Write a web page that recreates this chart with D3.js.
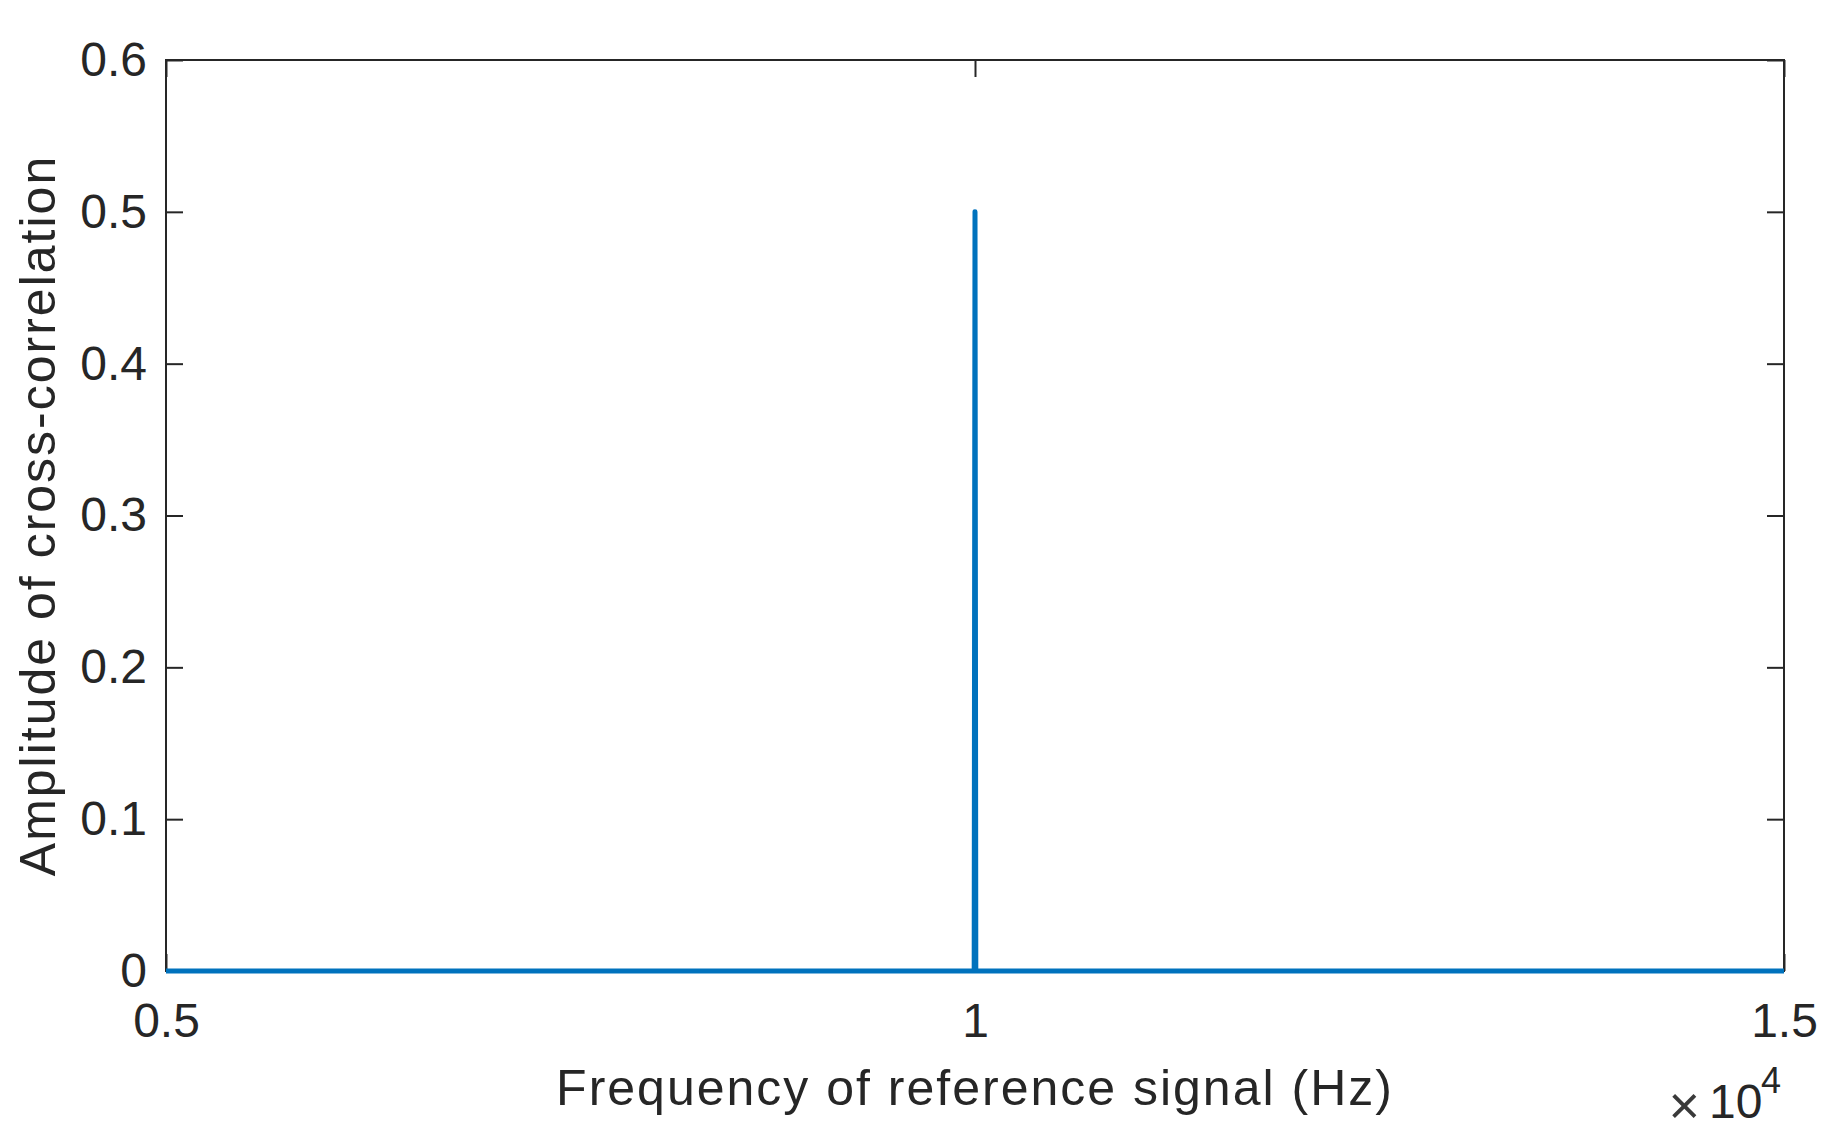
<!DOCTYPE html>
<html>
<head>
<meta charset="utf-8">
<script src="https://cdn.jsdelivr.net/npm/d3@7"></script>
<style>
  html, body { margin: 0; padding: 0; background: #fff; }
  svg { display: block; }
  text { font-family: "Liberation Sans", Arial, Helvetica, sans-serif; fill: #262626; }
</style>
</head>
<body>
<svg id="chart" width="1834" height="1136"></svg>
<script>
// ---- data ----
const frequencies = [5000, 9995, 10000, 10005, 15000];
const amplitudes  = [0, 0, 0.5, 0, 0];
const xTicks = [5000, 10000, 15000];
const xTickLabels = ["0.5", "1", "1.5"];
const yTicks = [0, 0.1, 0.2, 0.3, 0.4, 0.5, 0.6];
const yTickLabels = ["0", "0.1", "0.2", "0.3", "0.4", "0.5", "0.6"];
const xLabel = "Frequency of reference signal (Hz)";
const yLabel = "Amplitude of cross-correlation";

// ---- layout ----
const m = { left: 166, right: 1784, top: 60, bottom: 971 };
const axisColor = "#262626";
const lineColor = "#0072BD";
const tickLen = 17;

const svg = d3.select("#chart");
const x = d3.scaleLinear().domain([5000, 15000]).range([m.left, m.right]);
const y = d3.scaleLinear().domain([0, 0.6]).range([m.bottom, m.top]);

const pts = frequencies.map((f, i) => [f, amplitudes[i]]);
const lineGen = d3.line().x(d => x(d[0])).y(d => y(d[1]));

function styleAxis(g) {
  g.select(".domain").remove();
  g.selectAll(".tick line").attr("stroke", axisColor).attr("stroke-width", 2);
  g.selectAll("text").attr("fill", axisColor).style("font-size", "48px")
    .style("font-family", '"Liberation Sans", Arial, Helvetica, sans-serif');
}

const xAxis = svg.append("g").attr("transform", `translate(0,${m.bottom})`)
  .call(d3.axisBottom(x).tickValues(xTicks).tickSizeInner(-tickLen).tickSizeOuter(0)
    .tickPadding(32).tickFormat((d, i) => xTickLabels[i]));
styleAxis(xAxis);
xAxis.selectAll("text").attr("dy", "0.71em");

const xAxisTop = svg.append("g").attr("transform", `translate(0,${m.top})`)
  .call(d3.axisTop(x).tickValues(xTicks).tickSizeInner(-tickLen).tickSizeOuter(0).tickFormat(""));
styleAxis(xAxisTop);

const yAxis = svg.append("g").attr("transform", `translate(${m.left},0)`)
  .call(d3.axisLeft(y).tickValues(yTicks).tickSizeInner(-tickLen).tickSizeOuter(0)
    .tickPadding(19).tickFormat((d, i) => yTickLabels[i]));
styleAxis(yAxis);

const yAxisRight = svg.append("g").attr("transform", `translate(${m.right},0)`)
  .call(d3.axisRight(y).tickValues(yTicks).tickSizeInner(-tickLen).tickSizeOuter(0).tickFormat(""));
styleAxis(yAxisRight);

// box
svg.append("rect")
  .attr("x", m.left).attr("y", m.top)
  .attr("width", m.right - m.left).attr("height", m.bottom - m.top)
  .attr("fill", "none").attr("stroke", axisColor).attr("stroke-width", 2);

// data line (on top of the box, as in the reference)
svg.append("path")
  .datum(pts)
  .attr("fill", "none")
  .attr("stroke", lineColor)
  .attr("stroke-width", 5)
  .attr("stroke-linejoin", "round")
  .attr("d", lineGen);

// exponent label
svg.append("text")
  .attr("x", 1700).attr("y", 1124)
  .attr("text-anchor", "end")
  .style("font-size", "54px")
  .style("fill", "#3a3a3a")
  .text("\u00d7");
svg.append("text")
  .attr("x", 1709).attr("y", 1118)
  .style("font-size", "48px")
  .text("10");
svg.append("text")
  .attr("x", 1761).attr("y", 1093)
  .style("font-size", "36px")
  .text("4");

// axis labels
svg.append("text")
  .attr("x", (m.left + m.right) / 2).attr("y", 1105)
  .attr("text-anchor", "middle")
  .style("font-size", "50px")
  .style("letter-spacing", "2px")
  .text(xLabel);

svg.append("text")
  .attr("transform", `translate(55,${(m.top + m.bottom) / 2}) rotate(-90)`)
  .attr("text-anchor", "middle")
  .style("font-size", "50px")
  .style("letter-spacing", "2px")
  .text(yLabel);
</script>
</body>
</html>
